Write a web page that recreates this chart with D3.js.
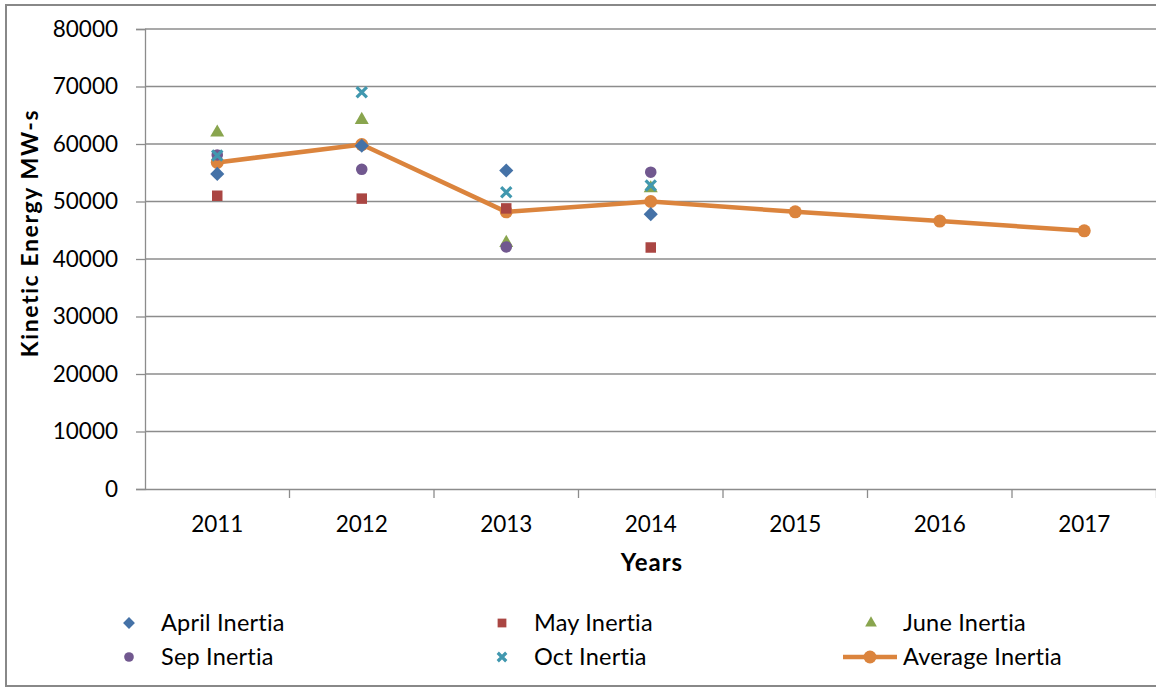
<!DOCTYPE html>
<html lang="en">
<head>
<meta charset="utf-8">
<title>Kinetic Energy</title>
<script src="https://cdnjs.cloudflare.com/ajax/libs/d3/7.8.5/d3.min.js"></script>
<style>
  body { margin: 0; background: #fff; }
  svg text { font-family: Lato, "Open Sans", sans-serif; fill: #000; }
</style>
</head>
<body>
<svg id="chart" width="1156" height="687"></svg>
<script>
// data
var years = ["2011", "2012", "2013", "2014", "2015", "2016", "2017"];
var aprilInertia = [54800, 59700, 55400, 47800, null, null, null];
var mayInertia   = [51000, 50500, 48800, 42000, null, null, null];
var juneInertia  = [62000, 64200, 42800, 52300, null, null, null];
var sepInertia   = [58100, 55600, 42100, 55100, null, null, null];
var octInertia   = [58000, 69000, 51600, 52800, null, null, null];
var avgInertia   = [56800, 59900, 48200, 50000, 48200, 46600, 44900];
var yTicks = [0, 10000, 20000, 30000, 40000, 50000, 60000, 70000, 80000];

// square diamond (rotated square), like the spreadsheet marker
var diamond = {
  draw: function(ctx, size) {
    var r = Math.sqrt(size) / Math.SQRT2 * 1.0;
    ctx.moveTo(0, -r); ctx.lineTo(r, 0); ctx.lineTo(0, r); ctx.lineTo(-r, 0); ctx.closePath();
  }
};

var series = [
  {name: "April Inertia", vals: aprilInertia, color: "#4572A7", sym: diamond, size: 100},
  {name: "May Inertia", vals: mayInertia, color: "#AA4643", sym: d3.symbolSquare, size: 110},
  {name: "June Inertia", vals: juneInertia, color: "#89A54E", sym: d3.symbolTriangle, size: 85},
  {name: "Sep Inertia", vals: sepInertia, color: "#71588F", sym: d3.symbolCircle, size: 105},
  {name: "Oct Inertia", vals: octInertia, color: "#4198AF", sym: d3.symbolTimes, size: 70, stroke: true}
];

var svg = d3.select("#chart");

// outer chart border
svg.append("rect").attr("x", 6).attr("y", 5).attr("width", 1160).attr("height", 681)
  .attr("fill", "none").attr("stroke", "#888").attr("stroke-width", 2);

var x = d3.scaleBand().domain(years).range([145, 1156.5]).padding(0);
var y = d3.scaleLinear().domain([0, 80000]).range([489, 29]);
var cx = function(i) { return x(years[i]) + x.bandwidth() / 2; };

// gridlines
svg.append("g").selectAll("line").data(yTicks.slice(1)).enter().append("line")
  .attr("x1", 145).attr("x2", 1156).attr("y1", d => y(d)).attr("y2", d => y(d))
  .attr("stroke", "#8c8c8c").attr("stroke-width", 1.3);

// y axis
var yAxis = svg.append("g").attr("transform", "translate(145,0)")
  .call(d3.axisLeft(y).tickValues(yTicks).tickSize(9).tickPadding(18).tickFormat(d3.format("d")));
yAxis.select(".domain").attr("stroke", "#8c8c8c").attr("stroke-width", 1.3);
yAxis.selectAll(".tick line").attr("stroke", "#8c8c8c").attr("stroke-width", 1.3);
yAxis.selectAll("text").style("font-size", "22.5px");

// x axis
var xAxis = svg.append("g").attr("transform", "translate(0,489)")
  .call(d3.axisBottom(x).tickSize(0).tickPadding(27));
xAxis.select(".domain").attr("stroke", "#8c8c8c").attr("stroke-width", 1.3);
xAxis.selectAll("text").style("font-size", "22.5px");
svg.append("g").selectAll("line").data(years).enter().append("line")
  .attr("x1", d => x(d) + x.bandwidth()).attr("x2", d => x(d) + x.bandwidth())
  .attr("y1", 489).attr("y2", 498).attr("stroke", "#8c8c8c").attr("stroke-width", 1.3);

// axis titles
svg.append("text").attr("transform", "translate(38,233) rotate(-90)")
  .attr("text-anchor", "middle").style("font-size", "23px").style("font-weight", "bold")
  .style("letter-spacing", "1.6px").text("Kinetic Energy MW-s");
svg.append("text").attr("x", 652).attr("y", 571).attr("text-anchor", "middle")
  .style("font-size", "24px").style("font-weight", "bold").style("letter-spacing", "1px").text("Years");

function drawMarker(g, s, px, py) {
  var p = g.append("path").attr("d", d3.symbol().type(s.sym).size(s.size)())
    .attr("transform", "translate(" + px + "," + py + ")");
  if (s.stroke) p.attr("fill", "none").attr("stroke", s.color).attr("stroke-width", 3.2);
  else p.attr("fill", s.color);
}

// average line
var line = d3.line().x((d, i) => cx(i)).y(d => y(d));
svg.append("path").datum(avgInertia).attr("d", line)
  .attr("fill", "none").attr("stroke", "#DB843D").attr("stroke-width", 4.5)
  .attr("stroke-linejoin", "round");
svg.append("g").selectAll("circle").data(avgInertia).enter().append("circle")
  .attr("cx", (d, i) => cx(i)).attr("cy", d => y(d)).attr("r", 6.5).attr("fill", "#DB843D");

// scatter series
series.forEach(function(s) {
  var g = svg.append("g");
  s.vals.forEach(function(v, i) {
    if (v != null) drawMarker(g, s, cx(i), y(v));
  });
});

// legend
var legPos = [[129, 623], [502, 623], [871, 623], [129, 657], [502, 657]];
series.forEach(function(s, i) {
  var g = svg.append("g");
  var sm = Object.assign({}, s, {size: s.size * 0.7});
  drawMarker(g, sm, legPos[i][0], legPos[i][1]);
  g.append("text").attr("x", legPos[i][0] + 32).attr("y", legPos[i][1] + 8)
    .style("font-size", "23.5px").style("letter-spacing", "0.2px").text(s.name);
});
svg.append("line").attr("x1", 843).attr("x2", 897).attr("y1", 657).attr("y2", 657)
  .attr("stroke", "#DB843D").attr("stroke-width", 4.5);
svg.append("circle").attr("cx", 870).attr("cy", 657).attr("r", 6.5).attr("fill", "#DB843D");
svg.append("text").attr("x", 903).attr("y", 665).style("font-size", "23.5px")
  .style("letter-spacing", "0.2px").text("Average Inertia");
</script>
</body>
</html>
